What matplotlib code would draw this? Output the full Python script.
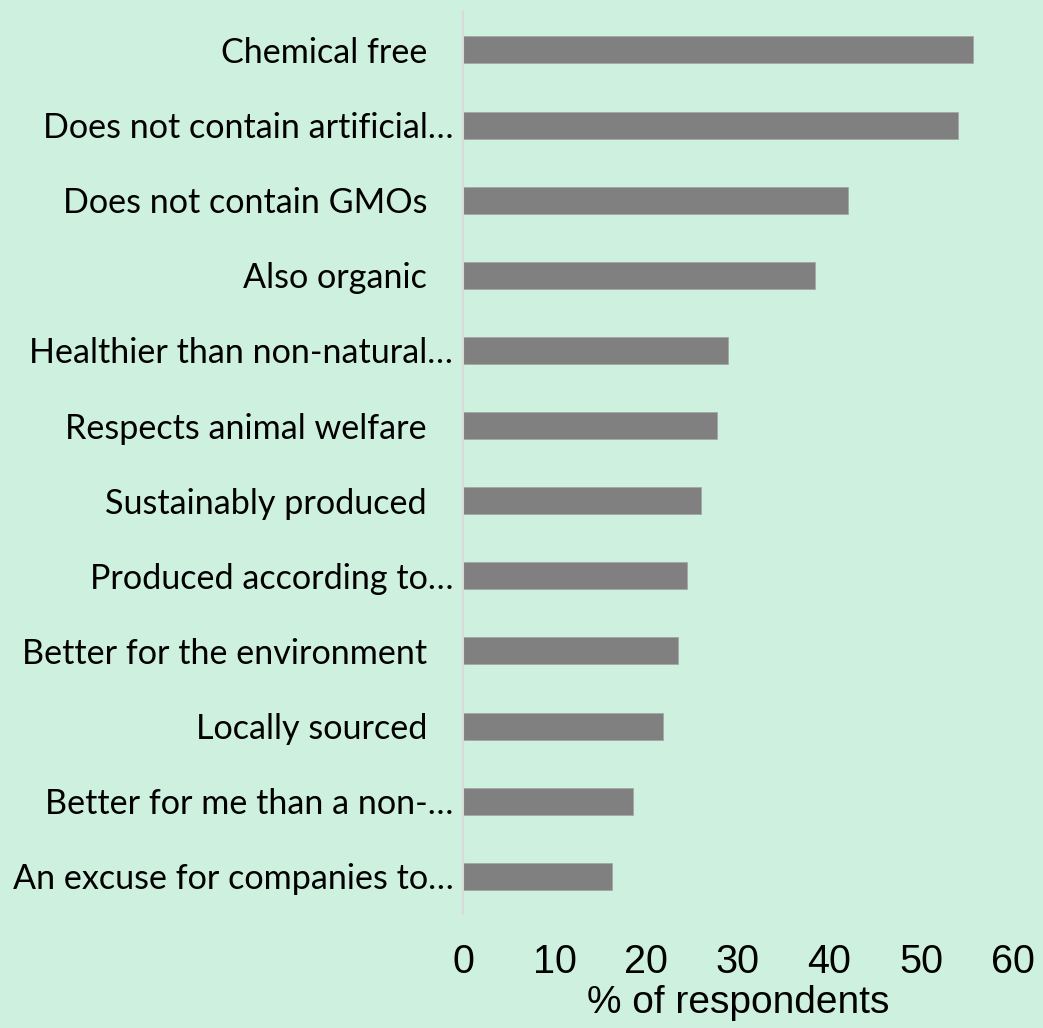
"""
Horizontal bar chart: what consumers associate with 'natural' claims.
"""

import matplotlib
matplotlib.use("Agg")
import matplotlib.pyplot as plt

# Data (top to bottom)
labels = [
    "Chemical free   ",
    "Does not contain artificial…",
    "Does not contain GMOs   ",
    "Also organic   ",
    "Healthier than non-natural…",
    "Respects animal welfare   ",
    "Sustainably produced   ",
    "Produced according to…",
    "Better for the environment   ",
    "Locally sourced   ",
    "Better for me than a non-…",
    "An excuse for companies to…",
]
values = [55.7, 54.0, 42.0, 38.4, 28.9, 27.7, 26.0, 24.4, 23.5, 21.8, 18.6, 16.2]
x_ticks = [0, 10, 20, 30, 40, 50, 60]

bg = "#CEF0DF"
bar_color = "#808080"


def main():
    fig = plt.figure(figsize=(10.43, 10.28), dpi=100, facecolor=bg)
    ax = fig.add_axes([0.444, 0.111, 0.527, 0.877])
    ax.set_facecolor(bg)

    ypos = list(range(len(labels)))
    ax.barh(ypos, values, height=0.36, color=bar_color, edgecolor="#A6A6A6", linewidth=0.6)

    ax.set_ylim(len(labels) - 0.5, -0.5)
    ax.set_xlim(0, 60)
    ax.set_yticks(ypos)
    ax.set_yticklabels(labels, fontfamily="Lato", fontsize=24.6, color="#000000")
    ax.set_xticks(x_ticks)
    ax.set_xticklabels([str(t) for t in x_ticks], fontfamily="Liberation Sans", fontsize=28.5)
    ax.tick_params(axis="y", length=0, pad=7)
    ax.tick_params(axis="x", length=0, pad=21)
    ax.set_xlabel("% of respondents", fontfamily="Liberation Sans", fontsize=28, labelpad=3)

    for side in ["top", "right", "bottom"]:
        ax.spines[side].set_visible(False)
    ax.spines["left"].set_color("#D9D9D9")
    ax.spines["left"].set_linewidth(1.5)

    fig.savefig("out.png", dpi=100, facecolor=bg)


if __name__ == "__main__":
    main()
